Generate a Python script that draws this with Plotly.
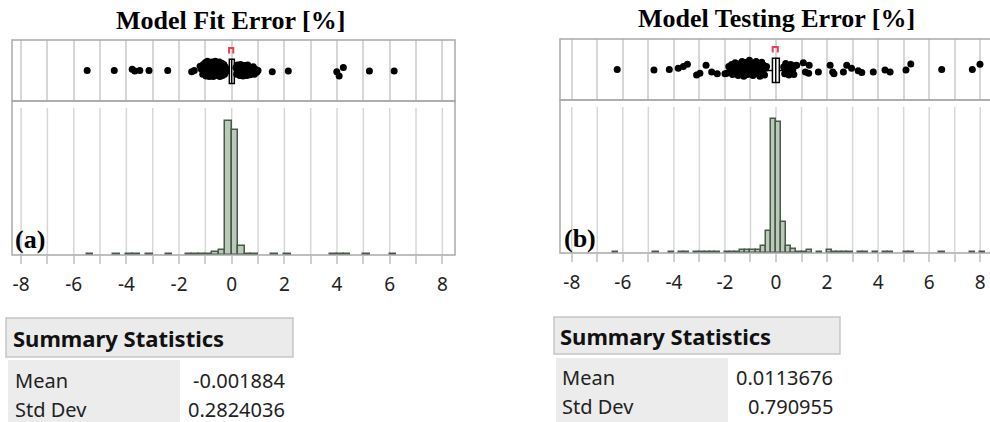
import plotly.graph_objects as go

W, H = 990, 422

# ---------------- data ----------------
# Model Fit Error histogram (bin width 0.25)
fit_bin_width = 0.25
fit_bin_start = [-5.5, -4.5, -4.0, -3.75, -3.25, -2.5, -1.75, -1.5, -1.25, -1.0,
                 -0.75, -0.5, -0.25, 0.0, 0.25, 0.5, 0.75, 1.5, 2.0, 3.75,
                 4.0, 4.25, 5.0, 6.0]
fit_counts = [1, 1, 1, 1, 1, 1, 1, 1, 1, 1,
              2, 4, 99, 92, 7, 1, 1, 1, 1, 1,
              1, 1, 1, 1]

# Model Testing Error histogram (bin width 0.2)
test_bin_width = 0.2
test_bin_start = [-6.4, -4.8, -4.2, -3.8, -3.6, -3.2, -3.0, -2.8, -2.6, -2.4,
                  -2.0, -1.8, -1.6, -1.4, -1.2, -1.0, -0.8, -0.6, -0.4, -0.2,
                  0.0, 0.2, 0.4, 0.6, 0.8, 1.0, 1.2, 1.6, 2.0, 2.2,
                  2.4, 2.6, 2.8, 3.2, 3.4, 3.8, 4.2, 4.4, 5.0, 5.2,
                  6.4, 7.6, 8.0]
test_counts = [1, 1, 1, 1, 1, 1, 1, 1, 1, 1,
               1, 1, 1, 2, 2, 2, 2, 5, 16, 96,
               94, 22, 5, 3, 1, 1, 2, 1, 2, 1,
               1, 1, 1, 1, 1, 1, 1, 1, 1, 1,
               1, 1, 1]

# jittered points above the histograms (value, vertical jitter)
fit_pts_x = [-5.49, -4.46, -3.78, -3.68, -3.49, -3.14, -2.43, -1.52, -1.42, -1.20,
             -1.15, -1.10, -1.08, -1.05, -1.00, -0.98, -0.95, -0.92, -0.90, -0.87,
             -0.85, -0.82, -0.80, -0.77, -0.75, -0.72, -0.70, -0.67, -0.65, -0.62,
             -0.60, -0.57, -0.55, -0.52, -0.50, -0.47, -0.45, -0.42, -0.40, -0.37,
             -0.35, -0.32, -0.30, -0.27, -0.25, -0.22, -0.20,
             0.16, 0.19, 0.22, 0.25, 0.28, 0.31, 0.34, 0.37, 0.40, 0.43,
             0.46, 0.49, 0.52, 0.55, 0.58, 0.61, 0.64, 0.67, 0.70, 0.74,
             0.78, 0.82, 0.86, 0.90, 0.95, 1.00,
             1.54, 2.15, 3.99, 4.08, 4.24, 5.23, 6.17]
fit_pts_j = [0.00, 0.00, 0.02, -0.01, 0.00, 0.00, 0.00, -0.02, 0.00, 0.07,
             0.02, -0.06, 0.10, 0.00, 0.13, -0.09, 0.05, 0.15, -0.04, 0.08,
             -0.10, 0.12, 0.01, -0.07, 0.14, 0.04, -0.10, 0.09, -0.02, 0.15,
             -0.08, 0.06, 0.11, -0.05, 0.02, 0.14, -0.10, 0.07, -0.03, 0.12,
             -0.08, 0.03, 0.10, -0.06, 0.06, -0.02, 0.03,
             0.05, -0.06, 0.09, -0.02, 0.03, -0.08, 0.10, -0.04, 0.06, -0.09,
             0.02, 0.08, -0.05, 0.04, -0.08, 0.09, -0.01, 0.05, -0.07, 0.03,
             -0.04, 0.06, -0.06, 0.02, -0.03, 0.00,
             -0.02, -0.01, -0.02, -0.09, 0.05, -0.01, -0.01]

test_pts_x = [-6.22, -4.78, -4.18, -3.83, -3.63, -3.47, -3.11, -2.98, -2.74, -2.52,
              -2.30, -2.00,
              -1.92, -1.85, -1.80, -1.74, -1.70, -1.65, -1.60, -1.56, -1.52, -1.48,
              -1.45, -1.40, -1.37, -1.33, -1.30, -1.26, -1.22, -1.18, -1.15, -1.11,
              -1.08, -1.04, -1.00, -0.97, -0.93, -0.90, -0.86, -0.82, -0.78, -0.75,
              -0.71, -0.67, -0.63, -0.60, -0.56, -0.52, -0.48, -0.45, -0.41, -0.37,
              0.30, 0.34, 0.38, 0.42, 0.46, 0.50, 0.54, 0.58, 0.62, 0.66, 0.70, 0.75,
              0.81, 1.07, 1.30, 1.15, 1.28, 1.66, 2.12, 2.22, 2.27, 2.64,
              2.77, 2.96, 3.22, 3.36, 3.81, 4.27, 4.47, 5.09, 5.28, 6.49,
              7.69, 7.99]
test_pts_j = [0.00, -0.01, 0.00, 0.02, 0.05, 0.085, -0.09, -0.06, 0.07, -0.04,
              -0.07, -0.07,
              -0.06, 0.05, -0.02, 0.08, -0.08, 0.02, 0.11, -0.05, 0.04, -0.10,
              0.09, 0.00, -0.07, 0.13, 0.03, -0.11, 0.07, -0.03, 0.12, -0.08,
              0.05, 0.15, -0.05, 0.01, 0.10, -0.10, 0.06, -0.02, 0.13, -0.07,
              0.03, 0.09, -0.11, 0.00, 0.12, -0.05, 0.07, -0.09, 0.02, 0.05,
              0.04, -0.07, 0.10, -0.02, 0.06, -0.09, 0.02, 0.08, -0.05, 0.00, -0.08, 0.06,
              0.07, 0.11, 0.07, -0.04, -0.06, -0.04, 0.07, -0.04, -0.07, -0.04,
              0.07, 0.02, -0.02, -0.05, -0.04, -0.01, -0.04, -0.01, 0.09, 0.00,
              0.00, 0.085]

# box plot statistics: [lower whisker, q1, median, q3, upper whisker]
fit_box = [-0.38, -0.09, 0.0, 0.10, 0.39]
test_box = [-0.47, -0.14, -0.01, 0.13, 0.44]
# shortest half brackets
fit_short_half = [-0.10, 0.06]
test_short_half = [-0.13, 0.07]

# summary statistics
fit_stats_labels = ["Mean", "Std Dev"]
fit_stats_values = ["-0.001884", "0.2824036"]
test_stats_labels = ["Mean", "Std Dev"]
test_stats_values = ["0.0113676", "0.790955"]

tick_values = list(range(-8, 9))
tick_text = [str(v) if v % 2 == 0 else "" for v in tick_values]

assert len(fit_bin_start) == len(fit_counts)
assert len(test_bin_start) == len(test_counts)
assert len(fit_pts_x) == len(fit_pts_j)
assert len(test_pts_x) == len(test_pts_j)

# ---------------- layout helpers ----------------
def px(x):
    return x / W

def py(y):
    return 1 - y / H

BAR_FILL = "#b9cbb8"
BAR_LINE = "#4b594b"
GRID = "#d7d7d7"
FRAME = "#a9a9a9"

panels = [
    dict(bx="x", by="y", hx="x2", hy="y2", l=12, r=455, t=40, m=101, b=255, z=231.7, s=26.33,
         bins=fit_bin_start, counts=fit_counts, bw=fit_bin_width, pts_x=fit_pts_x, pts_j=fit_pts_j,
         box=fit_box, sh=fit_short_half, ymax_count=99, top_px=120.7),
    dict(bx="x3", by="y3", hx="x4", hy="y4", l=560, r=990, t=39, m=100, b=253, z=776, s=25.53,
         bins=test_bin_start, counts=test_counts, bw=test_bin_width, pts_x=test_pts_x, pts_j=test_pts_j,
         box=test_box, sh=test_short_half, ymax_count=96, top_px=119),
]

fig = go.Figure()
layout = dict(width=W, height=H, autosize=False, margin=dict(l=0, r=0, t=0, b=0),
              paper_bgcolor="white", plot_bgcolor="white", showlegend=False,
              bargap=0)
shapes = []

for p in panels:
    xr = [(p["l"] - p["z"]) / p["s"], (p["r"] - p["z"]) / p["s"]]
    xdom = [px(p["l"]), px(p["r"])]
    fig.add_trace(go.Scatter(
        x=p["pts_x"], y=[0.5 + j for j in p["pts_j"]], mode="markers",
        marker=dict(color="black", size=7, line=dict(width=0)),
        xaxis=p["bx"], yaxis=p["by"], hoverinfo="skip"))
    lw, q1, med, q3, uw = p["box"]
    fig.add_trace(go.Box(
        q1=[q1], median=[med], q3=[q3], lowerfence=[lw], upperfence=[uw], y=[0.485],
        orientation="h", width=0.4, whiskerwidth=0.55, fillcolor="white",
        line=dict(color="black", width=1.5), xaxis=p["bx"], yaxis=p["by"],
        hoverinfo="skip"))
    a, b = p["sh"]
    fig.add_trace(go.Scatter(
        x=[a, a, b, b], y=[0.78, 0.87, 0.87, 0.78], mode="lines",
        line=dict(color="#e8424f", width=2), xaxis=p["bx"], yaxis=p["by"],
        hoverinfo="skip"))
    centers = [s0 + p["bw"] / 2 for s0 in p["bins"]]
    fig.add_trace(go.Bar(
        x=centers, y=p["counts"], width=p["bw"],
        marker=dict(color=BAR_FILL, line=dict(color=BAR_LINE, width=1.5)),
        xaxis=p["hx"], yaxis=p["hy"], hoverinfo="skip"))

    hist_h = p["b"] - p["m"]
    ymax = p["ymax_count"] * hist_h / (p["b"] - p["top_px"])

    bxk = "xaxis" + p["bx"][1:]
    byk = "yaxis" + p["by"][1:]
    hxk = "xaxis" + p["hx"][1:]
    hyk = "yaxis" + p["hy"][1:]
    layout[bxk] = dict(domain=xdom, range=xr, showgrid=True, gridcolor=GRID, gridwidth=1.5,
                       tickvals=tick_values, showticklabels=False, ticks="", zeroline=False,
                       showline=False, anchor=p["by"], fixedrange=True)
    layout[byk] = dict(domain=[py(p["m"]), py(p["t"])], range=[0, 1], visible=False,
                       anchor=p["bx"], fixedrange=True)
    layout[hxk] = dict(domain=xdom, range=xr, showgrid=False, zeroline=False, showline=False,
                       tickvals=tick_values, ticktext=tick_text, ticks="outside", ticklen=8,
                       tickwidth=1.5, tickcolor="#cfcfcf", ticklabelstandoff=4,
                       tickfont=dict(family="Noto Sans", size=19, color="#222222"),
                       anchor=p["hy"], fixedrange=True)
    layout[hyk] = dict(domain=[py(p["b"]), py(p["m"])], range=[0, ymax], visible=False,
                       anchor=p["hx"], fixedrange=True)
    for v in tick_values:
        shapes.append(dict(type="line", xref=p["hx"], yref=p["hy"] + " domain",
                           x0=v, x1=v, y0=0, y1=0.955, layer="below",
                           line=dict(color=GRID, width=1.5)))
    right_edge = px(p["r"]) if p["r"] < W else 1.02
    shapes.append(dict(type="rect", xref="paper", yref="paper", x0=px(p["l"]), x1=right_edge,
                       y0=py(p["m"]), y1=py(p["t"]), line=dict(color=FRAME, width=1.5)))
    shapes.append(dict(type="rect", xref="paper", yref="paper", x0=px(p["l"]), x1=right_edge,
                       y0=py(p["b"]), y1=py(p["m"]), line=dict(color=FRAME, width=1.5)))

annotations = []

def ann(text, x, y, size, family, xanchor="left", bold=False, color="#111111"):
    annotations.append(dict(text=text, x=px(x), y=py(y), xref="paper", yref="paper",
                            xanchor=xanchor, yanchor="middle", showarrow=False,
                            font=dict(size=size, family=family, color=color,
                                      weight="bold" if bold else "normal")))

ann("Model Fit Error [%]", 230, 20, 26, "Liberation Serif", "center", True, "black")
ann("Model Testing Error [%]", 776, 19, 26, "Liberation Serif", "center", True, "black")
ann("(a)", 13, 239, 26, "Liberation Serif", "left", True, "black")
ann("(b)", 562, 238, 26, "Liberation Serif", "left", True, "black")

tables = [
    dict(hx0=6, hx1=293, hy0=318, hy1=357, rx1=180, ry0=360, tx=11, vx=287,
         labels=fit_stats_labels, values=fit_stats_values, ty=338, rows=[380, 409]),
    dict(hx0=554, hx1=840, hy0=317, hy1=354, rx1=728, ry0=358, tx=558, vx=835,
         labels=test_stats_labels, values=test_stats_values, ty=336, rows=[377, 406]),
]
for t in tables:
    shapes.append(dict(type="rect", xref="paper", yref="paper", x0=px(t["hx0"]), x1=px(t["hx1"]),
                       y0=py(t["hy1"]), y1=py(t["hy0"]), fillcolor="#ebebeb",
                       line=dict(color="#c6c6c6", width=1.5), layer="below"))
    shapes.append(dict(type="rect", xref="paper", yref="paper", x0=px(t["hx0"] + 2), x1=px(t["rx1"]),
                       y0=0, y1=py(t["ry0"]), fillcolor="#ececec",
                       line=dict(width=0), layer="below"))
    ann("Summary Statistics", t["tx"], t["ty"], 22, "Noto Sans", "left", True, "#111111")
    for lab, val, ry in zip(t["labels"], t["values"], t["rows"]):
        ann(lab, t["tx"] + 2, ry, 20, "Noto Sans", "left", False, "#222222")
        ann(val, t["vx"], ry, 20, "Noto Sans", "right", False, "#222222")

layout["shapes"] = shapes
layout["annotations"] = annotations
fig.update_layout(**layout)
fig.write_html("out.html", config={"displayModeBar": False},
               post_script="document.body.style.margin='0px';document.body.style.overflow='hidden';")
